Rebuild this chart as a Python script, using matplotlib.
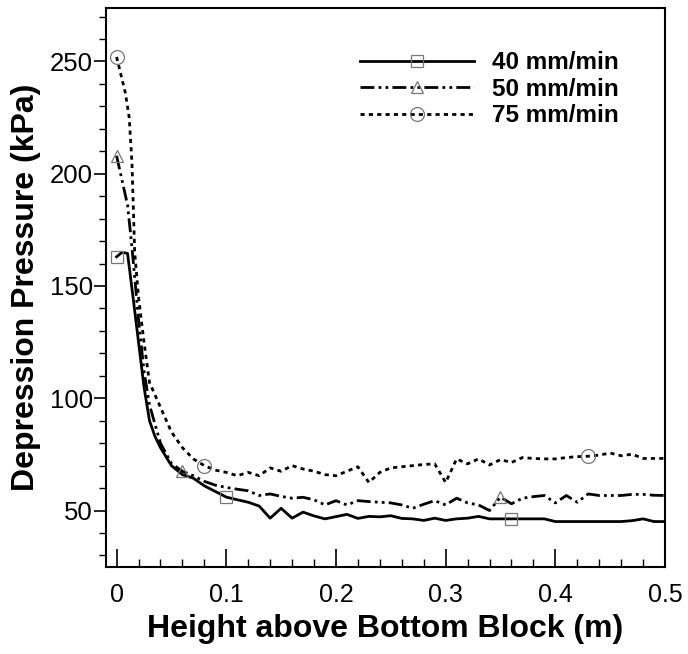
import matplotlib
matplotlib.use('Agg')
import matplotlib.pyplot as plt
from matplotlib.lines import Line2D
import numpy as np

plt.rcParams['font.family'] = ['Liberation Sans', 'DejaVu Sans']

# 40 mm/min
x40 = [0, 0.005, 0.01, 0.015, 0.02, 0.025, 0.03, 0.035, 0.04, 0.05, 0.06, 0.07, 0.08, 0.09,
       0.10, 0.11, 0.12, 0.13, 0.14, 0.15, 0.16, 0.17, 0.18, 0.19, 0.20, 0.21, 0.22, 0.23,
       0.24, 0.25, 0.26, 0.27, 0.28, 0.29, 0.30, 0.31, 0.32, 0.33, 0.34, 0.35, 0.36, 0.37,
       0.38, 0.39, 0.40, 0.41, 0.42, 0.43, 0.44, 0.45, 0.46, 0.47, 0.48, 0.49, 0.50]
y40 = [163, 165, 164.5, 145, 125, 105, 90, 83, 78, 70, 66, 64.4, 61, 58.5,
       56, 54.8, 53.7, 52, 46.6, 51, 46.6, 49.3, 47.6, 46.3, 47.3, 48.3, 46.5, 47.4,
       47.2, 47.7, 46.5, 46.3, 45.6, 46.6, 45.6, 46.3, 46.6, 47.4, 46.3, 46.3, 46.3, 46.3,
       46.3, 46.3, 45.1, 45.1, 45.1, 45.1, 45.1, 45.1, 45.1, 45.5, 46.3, 45.1, 45.1]
m40 = [0, 14, 40]

# 50 mm/min
x50 = [0, 0.005, 0.01, 0.013, 0.015, 0.02, 0.025, 0.03, 0.04, 0.05, 0.06, 0.07, 0.08, 0.09,
       0.10, 0.11, 0.12, 0.13, 0.14, 0.15, 0.16, 0.17, 0.18, 0.19, 0.20, 0.21, 0.22, 0.23,
       0.24, 0.25, 0.26, 0.27, 0.28, 0.29, 0.30, 0.31, 0.32, 0.33, 0.34, 0.35, 0.36, 0.37,
       0.38, 0.39, 0.40, 0.41, 0.42, 0.43, 0.44, 0.45, 0.46, 0.47, 0.48, 0.49, 0.50]
y50 = [208, 197, 186, 172, 162, 135, 112, 97, 80, 71, 67.5, 65.5, 63, 61.3,
       60.3, 59.5, 58.8, 56.7, 57.4, 56.3, 55.5, 55.9, 54.8, 52.5, 54.4, 52.5, 54.4, 54,
       53.7, 53.4, 52.5, 51, 52.8, 54.4, 52.5, 55.5, 53.4, 52.5, 50, 56, 53, 55.5,
       56.2, 56.7, 53.4, 56.7, 53.7, 57.4, 56.7, 56.7, 56.7, 57.2, 57.2, 56.8, 56.7]
m50 = [0, 10, 39]

# 75 mm/min
x75 = [0, 0.005, 0.008, 0.0115, 0.014, 0.0165, 0.02, 0.025, 0.03, 0.04, 0.05, 0.06, 0.07,
       0.08, 0.09, 0.10, 0.11, 0.12, 0.13, 0.14, 0.15, 0.16, 0.17, 0.18, 0.19, 0.20, 0.21,
       0.22, 0.23, 0.24, 0.25, 0.26, 0.27, 0.28, 0.29, 0.30, 0.31, 0.32, 0.33, 0.34, 0.35,
       0.36, 0.37, 0.38, 0.39, 0.40, 0.41, 0.42, 0.43, 0.44, 0.45, 0.46, 0.47, 0.48, 0.49, 0.50]
y75 = [252, 242, 236, 225, 205, 165, 145, 125, 107, 96, 85, 78, 73,
       70, 68, 67, 65.5, 67, 65.5, 69, 67.5, 70, 68.5, 67.5, 66, 65.5, 67.5,
       69.5, 62.5, 67, 69, 69.5, 70, 70.5, 70.8, 62.5, 73, 70.8, 73, 70.3, 72.7,
       71.4, 73.6, 73.2, 73, 73, 73.6, 74, 74.2, 74.7, 75.6, 74.4, 75.1, 73.2, 73.2, 73.2]
m75 = [0, 13, 48]

labels = ['40 mm/min', '50 mm/min', '75 mm/min']

fig = plt.figure(figsize=(6.88, 6.54), dpi=100)
ax = fig.add_axes([0.154, 0.1335, 0.8126, 0.855])

styles = [dict(ls='-', lw=2.0), dict(ls=(0, (5, 1.5, 1, 1.5, 1, 1.5)), lw=2.0),
          dict(ls=(0, (1.5, 1.5)), lw=2.0)]
mk = [dict(marker='s', ms=8), dict(marker='^', ms=9), dict(marker='o', ms=10)]
series = [(x40, y40, m40), (x50, y50, m50), (x75, y75, m75)]

handles = []
for (xs, ys, mi), st, m, lab in zip(series, styles, mk, labels):
    xs = np.array(xs)
    ys = np.array(ys)
    ax.plot(xs, ys, color='black', **st)
    ax.plot(xs[mi], ys[mi], ls='none', mfc='none', mec='#777777', mew=0.9, **m)
    handles.append(Line2D([], [], color='black', mfc='none', mec='#777777', mew=0.9,
                          **st, **m))

ax.set_xlim(-0.0097, 0.5)
ax.set_ylim(25, 274)
ax.set_xticks([0, 0.1, 0.2, 0.3, 0.4, 0.5])
ax.set_xticklabels(['0', '0.1', '0.2', '0.3', '0.4', '0.5'])
ax.set_xticks(np.arange(0, 0.5, 0.02), minor=True)
ax.set_yticks([50, 100, 150, 200, 250])
ax.set_yticks(np.arange(30, 275, 10), minor=True)

ax.tick_params(axis='x', which='major', direction='in', length=13, width=1.2,
               labelsize=18, pad=12, top=False)
ax.tick_params(axis='x', which='minor', direction='in', length=6, width=1.0, top=False)
ax.tick_params(axis='y', which='major', direction='out', length=9, width=1.2,
               labelsize=18.5, pad=0.5, right=False)
ax.tick_params(axis='y', which='minor', direction='out', length=5, width=1.0, right=False)
for s in ax.spines.values():
    s.set_linewidth(1.5)

ax.set_xlabel('Height above Bottom Block (m)', fontsize=23, fontweight='bold', labelpad=5)
ax.set_ylabel('Depression Pressure (kPa)', fontsize=23, fontweight='bold', labelpad=6)

ax.legend(handles, labels, loc='upper left', bbox_to_anchor=(0.454, 0.922), frameon=False,
          borderpad=0, borderaxespad=0, handlelength=4.7, handletextpad=0.75,
          labelspacing=0.15, prop={'size': 17.5, 'weight': 'bold'})

fig.savefig('out.png', dpi=100)
